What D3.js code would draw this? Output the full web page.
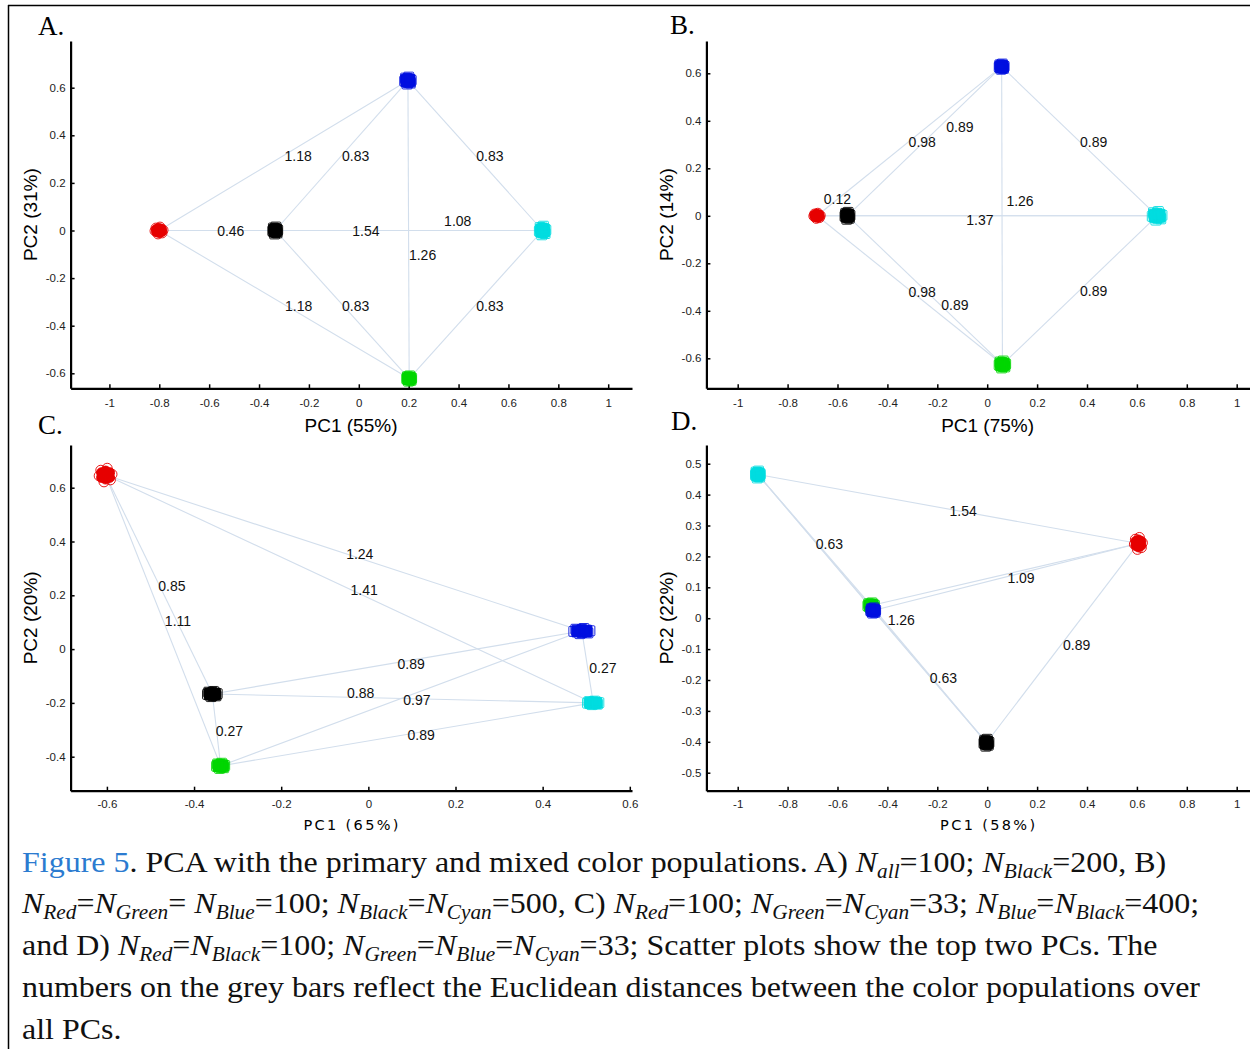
<!DOCTYPE html>
<html>
<head>
<meta charset="utf-8">
<script src="https://cdn.jsdelivr.net/npm/d3@7"></script>
<style>
body { margin: 0; background: #fff; font-family: "Liberation Sans", Arial, sans-serif; }
</style>
</head>
<body>
<script>
// populations, drawn in this order (green under blue in D)
var groups = ["Red", "Black", "Green", "Blue", "Cyan"];
var groupColor = {Red: "#e60000", Black: "#000000", Green: "#00d600", Blue: "#0010e0", Cyan: "#00dce0"};

// cluster centres, PC1 / PC2
var aPC1 = [-0.801, -0.335, 0.202, 0.197, 0.737];
var aPC2 = [0, 0, -0.622, 0.63, 0];
var bPC1 = [-0.682, -0.56, 0.061, 0.058, 0.681];
var bPC2 = [0, 0, -0.626, 0.628, 0];
var cPC1 = [-0.603, -0.358, -0.339, 0.49, 0.516];
var cPC2 = [0.647, -0.167, -0.434, 0.067, -0.2];
var dPC1 = [0.606, -0.003, -0.465, -0.457, -0.919];
var dPC2 = [0.242, -0.403, 0.041, 0.025, 0.465];

// distance labels (text, anchor in data units)
var aDist = ["1.18", "0.83", "0.83", "0.46", "1.54", "1.08", "1.26", "1.18", "0.83", "0.83"];
var aDistX = [-0.298, -0.067, 0.471, -0.568, -0.026, 0.342, 0.201, -0.296, -0.067, 0.471];
var aDistY = [0.311, 0.311, 0.311, 0, 0, 0.041, -0.103, -0.316, -0.316, -0.316];
var bDist = ["0.12", "0.98", "0.89", "0.89", "1.26", "1.37", "0.98", "0.89", "0.89"];
var bDistX = [-0.655, -0.315, -0.164, 0.372, 0.077, -0.084, -0.315, -0.184, 0.372];
var bDistY = [0.070, 0.310, 0.376, 0.310, 0.064, -0.018, -0.319, -0.376, -0.318];
var cDist = ["1.24", "1.41", "0.85", "1.11", "0.89", "0.27", "0.88", "0.97", "0.27", "0.89"];
var cDistX = [-0.051, -0.041, -0.482, -0.467, 0.067, 0.507, -0.049, 0.080, -0.350, 0.090];
var cDistY = [0.353, 0.219, 0.234, 0.104, -0.057, -0.071, -0.162, -0.190, -0.305, -0.320];
var dDist = ["1.54", "0.63", "1.09", "1.26", "0.89", "0.63"];
var dDistX = [-0.151, -0.687, 0.081, -0.399, 0.304, -0.230];
var dDistY = [0.346, 0.241, 0.131, -0.006, -0.088, -0.194];

// ticks and axis titles
var wideTicks = [-1, -0.8, -0.6, -0.4, -0.2, 0, 0.2, 0.4, 0.6, 0.8, 1];
var abYTicks = [-0.6, -0.4, -0.2, 0, 0.2, 0.4, 0.6];
var cXTicks = [-0.6, -0.4, -0.2, 0, 0.2, 0.4, 0.6];
var cYTicks = [-0.4, -0.2, 0, 0.2, 0.4, 0.6];
var dYTicks = [-0.5, -0.4, -0.3, -0.2, -0.1, 0, 0.1, 0.2, 0.3, 0.4, 0.5];
var xTitles = ["PC1 (55%)", "PC1 (75%)", "PC1 (65%)", "PC1 (58%)"];
var yTitles = ["PC2 (31%)", "PC2 (14%)", "PC2 (20%)", "PC2 (22%)"];
var panelLetters = ["A.", "B.", "C.", "D."];

var captionLines = [
  "Figure 5. PCA with the primary and mixed color populations. A) N_{all}=100; N_{Black}=200, B)",
  "N_{Red}=N_{Green}= N_{Blue}=100; N_{Black}=N_{Cyan}=500, C) N_{Red}=100; N_{Green}=N_{Cyan}=33; N_{Blue}=N_{Black}=400;",
  "and D) N_{Red}=N_{Black}=100; N_{Green}=N_{Blue}=N_{Cyan}=33; Scatter plots show the top two PCs. The",
  "numbers on the grey bars reflect the Euclidean distances between the color populations over",
  "all PCs."
];

var width = 1250, height = 1049;
var svg = d3.select("body").append("svg").attr("width", width).attr("height", height);
var serif = "'Liberation Serif', 'Times New Roman', serif";

// frame
svg.append("line").attr("x1", 8).attr("x2", width).attr("y1", 5.5).attr("y2", 5.5)
  .attr("stroke", "#000").attr("stroke-width", 1.5);
svg.append("line").attr("x1", 8.5).attr("x2", 8.5).attr("y1", 5).attr("y2", height)
  .attr("stroke", "#000").attr("stroke-width", 1.5);

var panels = [
  {pc1: aPC1, pc2: aPC2, dist: aDist, dx: aDistX, dy: aDistY, xTicks: wideTicks, yTicks: abYTicks,
   xRef: [-1, 1], xPix: [109.4, 608.2], yRef: [0.6, -0.6], yPix: [87.7, 373.3],
   left: 70.6, right: 632, top: 41, bottom: 388.3, xPad: 11, titleFont: "Liberation Sans", titleSize: 19, titleY: 432,
   titleX: 351, yTitleX: 37, letterX: 38, letterY: 35, blob: [[10, 9], [8, 9], [8, 8], [9, 9], [9, 10]]},
  {pc1: bPC1, pc2: bPC2, dist: bDist, dx: bDistX, dy: bDistY, xTicks: wideTicks, yTicks: abYTicks,
   xRef: [-1, 1], xPix: [737.7, 1236.7], yRef: [0.6, -0.6], yPix: [73.3, 358.3],
   left: 706.4, right: 1252, top: 41, bottom: 388.3, xPad: 11, titleFont: "Liberation Sans", titleSize: 19, titleY: 432,
   titleX: 987.6, yTitleX: 673, letterX: 670, letterY: 34, blob: [[9, 8], [8, 9], [9, 9], [8, 8], [11, 10]]},
  {pc1: cPC1, pc2: cPC2, dist: cDist, dx: cDistX, dy: cDistY, xTicks: cXTicks, yTicks: cYTicks,
   xRef: [-0.6, 0.6], xPix: [106.9, 629.8], yRef: [0.6, -0.4], yPix: [487.7, 756.7],
   left: 70.6, right: 632, top: 445, bottom: 790.7, xPad: 9, titleFont: "DejaVu Sans", titleSize: 14.5, titleY: 830,
   titleX: 351, yTitleX: 37, letterX: 38, letterY: 434, blob: [[13, 13], [11, 8], [10, 8], [15, 8], [12, 7]]},
  {pc1: dPC1, pc2: dPC2, dist: dDist, dx: dDistX, dy: dDistY, xTicks: wideTicks, yTicks: dYTicks,
   xRef: [-1, 1], xPix: [737.7, 1236.7], yRef: [0.5, -0.5], yPix: [463.7, 772.7],
   left: 706.4, right: 1252, top: 445, bottom: 790.7, xPad: 9, titleFont: "DejaVu Sans", titleSize: 14.5, titleY: 830,
   titleX: 987.6, yTitleX: 673, letterX: 671, letterY: 430, blob: [[10, 12], [8, 9], [9, 8], [8, 8], [8, 9]]}
];

// marker pattern inside a blob (unit offsets): filled core then open rim
var corePattern = [[0, 0], [-0.5, -0.3], [0.5, -0.3], [-0.5, 0.3], [0.5, 0.3], [0, -0.5], [0, 0.5], [-0.3, 0.1], [0.3, -0.1]];
var rimPattern = [[-0.8, 0.1], [0.8, -0.1], [0.2, -0.85], [-0.2, 0.85], [0.6, 0.6], [-0.6, -0.6]];

var fmt = function(d) { return String(+d.toFixed(1)); };

panels.forEach(function(p, pi) {
  var g = svg.append("g");

  var x = d3.scaleLinear().domain(p.xRef).range(p.xPix);
  x.domain([x.invert(p.left), x.invert(p.right)]).range([p.left, p.right]);
  var y = d3.scaleLinear().domain(p.yRef).range(p.yPix);
  y.domain([y.invert(p.bottom), y.invert(p.top)]).range([p.bottom, p.top]);

  // lines between every pair of populations
  var pairs = [];
  for (var i = 0; i < groups.length; i++)
    for (var j = i + 1; j < groups.length; j++) pairs.push([i, j]);

  g.selectAll(".link").data(pairs).enter().append("line")
    .attr("class", "link")
    .attr("x1", function(d) { return x(p.pc1[d[0]]); })
    .attr("y1", function(d) { return y(p.pc2[d[0]]); })
    .attr("x2", function(d) { return x(p.pc1[d[1]]); })
    .attr("y2", function(d) { return y(p.pc2[d[1]]); })
    .attr("stroke", "#d2deec")
    .attr("stroke-width", 1.1);

  // axes
  var xAxis = d3.axisBottom(x).tickValues(p.xTicks).tickSizeInner(-4).tickSizeOuter(0)
    .tickPadding(p.xPad).tickFormat(fmt);
  var yAxis = d3.axisLeft(y).tickValues(p.yTicks).tickSizeInner(-4).tickSizeOuter(0)
    .tickPadding(5).tickFormat(fmt);
  var gx = g.append("g").attr("transform", "translate(0," + p.bottom + ")").call(xAxis);
  var gy = g.append("g").attr("transform", "translate(" + p.left + ",0)").call(yAxis);
  [gx, gy].forEach(function(a) {
    a.attr("font-family", null).attr("font-size", null);
    a.select(".domain").attr("stroke-width", 2.2);
    a.selectAll(".tick line").attr("stroke-width", 1.5);
    a.selectAll(".tick text").attr("font-size", 11.5).attr("fill", "#222");
  });

  // population clusters
  groups.forEach(function(name, k) {
    var cx = x(p.pc1[k]), cy = y(p.pc2[k]);
    var sx = p.blob[k][0], sy = p.blob[k][1];
    var m = 5;
    var col = groupColor[name];
    var cg = g.append("g");
    function mark(pt, filled) {
      var px = cx + pt[0] * (sx - m), py = cy + pt[1] * (sy - m);
      var el;
      if (name === "Red") {
        el = cg.append("circle").attr("cx", px).attr("cy", py).attr("r", m);
      } else {
        el = cg.append("rect").attr("x", px - m).attr("y", py - m).attr("width", 2 * m).attr("height", 2 * m)
          .attr("rx", 1);
      }
      el.attr("fill", filled ? col : "none").attr("stroke", col).attr("stroke-width", 0.9);
    }
    corePattern.forEach(function(pt) { mark(pt, true); });
    rimPattern.forEach(function(pt) { mark(pt, false); });
  });

  // distance labels
  g.selectAll(".dist").data(p.dist).enter().append("text")
    .attr("class", "dist")
    .attr("x", function(d, i) { return x(p.dx[i]); })
    .attr("y", function(d, i) { return y(p.dy[i]); })
    .attr("dominant-baseline", "central")
    .attr("font-size", 14)
    .attr("fill", "#111")
    .text(function(d) { return d; });

  // axis titles
  var xt = g.append("text").attr("x", p.titleX).attr("y", p.titleY)
    .attr("text-anchor", "middle").attr("font-size", p.titleSize)
    .style("font-family", p.titleFont)
    .text(xTitles[pi]);
  if (pi >= 2) xt.attr("textLength", 95).attr("lengthAdjust", "spacing");
  g.append("text")
    .attr("transform", "translate(" + p.yTitleX + "," + ((p.top + p.bottom) / 2) + ") rotate(-90)")
    .attr("text-anchor", "middle").attr("font-size", 19)
    .text(yTitles[pi]);

  // panel letter
  g.append("text").attr("x", p.letterX).attr("y", p.letterY)
    .style("font-family", serif)
    .attr("font-size", 27)
    .text(panelLetters[pi]);
});

// caption
var cap = svg.append("g");
var captionTexts = captionLines.map(function(line) {
  var t = cap.append("text")
    .style("font-family", serif)
    .attr("font-size", 30)
    .attr("fill", "#111");
  var shift = 0;
  function piece(str) {
    var ts = t.append("tspan").text(str);
    if (shift) { ts.attr("dy", shift); shift = 0; }
    return ts;
  }
  line.split(/(N_\{[^}]+\})/).forEach(function(part) {
    if (!part) return;
    var sub = part.match(/^N_\{([^}]+)\}$/);
    if (sub) {
      piece("N").attr("font-style", "italic");
      piece(sub[1]).attr("font-style", "italic").attr("font-size", 20).attr("dy", 6);
      shift = -6;
    } else if (part.indexOf("Figure 5") === 0) {
      piece("Figure 5").attr("fill", "#2b7bd0");
      piece(part.slice(8));
    } else {
      piece(part);
    }
  });
  return t;
});
// the printed caption is a little condensed; fit the longest line
var natural = captionTexts[3].node().getComputedTextLength();
var k = (1200 - 22) / natural;
captionTexts.forEach(function(t, li) {
  t.attr("transform", "translate(22," + (871.5 + li * 41.8) + ") scale(" + k + ",1)");
});
</script>
</body>
</html>
